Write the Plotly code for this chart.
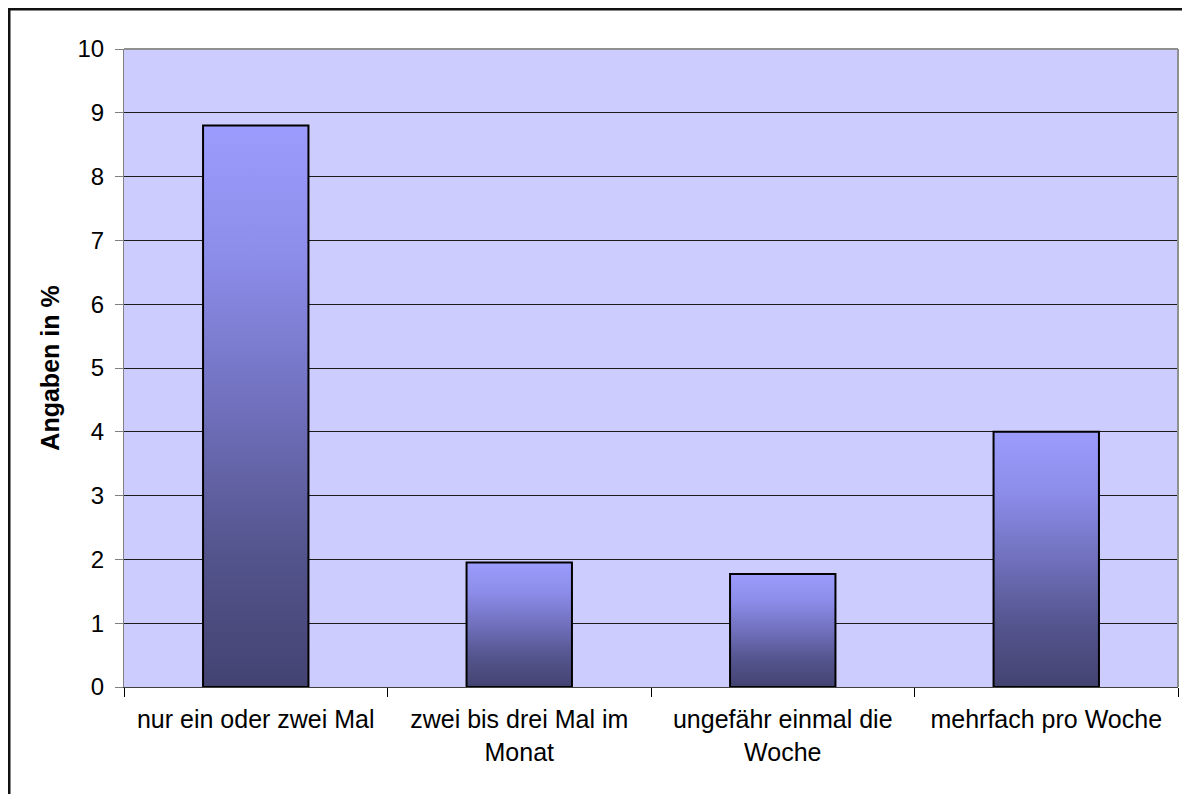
"""Excel-artiges Säulendiagramm mit Farbverlauf in den Säulen."""

import plotly.graph_objects as go

# --- Daten ---
kategorien = [
    "nur ein oder zwei Mal",
    "zwei bis drei Mal im<br>Monat",
    "ungefähr einmal die<br>Woche",
    "mehrfach pro Woche",
]
werte = [8.8, 1.95, 1.77, 4.0]
y_ticks = list(range(0, 11))

BALKEN_BREITE = 0.4
FONT = "Liberation Sans, Arial, sans-serif"
VERLAUF = [
    [0.0, "#434372"],
    [0.25, "#55558f"],
    [0.5, "#7070bd"],
    [0.75, "#8b8be8"],
    [1.0, "#9c9cfe"],
]

# Die Seite hat 8px Body-Rand, deshalb ist die Figur etwas kleiner
W, H = 1182, 786
L, R, T, B = 116, 12, 41, 107

fig = go.Figure()

# Säulen als gefüllte Flächen, damit ein vertikaler Verlauf möglich ist
for i, v in enumerate(werte):
    h = BALKEN_BREITE / 2
    fig.add_trace(
        go.Scatter(
            x=[i - h, i - h, i + h, i + h, i - h],
            y=[0, v, v, 0, 0],
            mode="lines",
            fill="toself",
            fillgradient={"type": "vertical", "colorscale": VERLAUF},
            line={"color": "#000000", "width": 2},
            hoverinfo="skip",
            showlegend=False,
        )
    )

grenzen = [i - 0.5 for i in range(len(kategorien) + 1)]

fig.update_xaxes(
    range=[-0.5, len(kategorien) - 0.5],
    tickmode="array",
    tickvals=list(range(len(kategorien))),
    ticktext=kategorien,
    ticks="",
    ticklabelstandoff=10,
    showgrid=False,
    zeroline=False,
    showline=True,
    linecolor="#404040",
    linewidth=1,
    tickfont={"family": FONT, "size": 25, "color": "#000000"},
    minor={
        "tickmode": "array",
        "tickvals": grenzen,
        "ticks": "outside",
        "ticklen": 9,
        "tickcolor": "#000000",
        "tickwidth": 1,
        "showgrid": False,
    },
)
fig.update_yaxes(
    range=[0, 10],
    tickmode="array",
    tickvals=y_ticks,
    ticks="outside",
    ticklen=8,
    tickcolor="#808080",
    ticklabelstandoff=6,
    showgrid=True,
    gridcolor="#1a1a1a",
    gridwidth=1,
    zeroline=False,
    showline=True,
    linecolor="#808080",
    linewidth=1,
    tickfont={"family": FONT, "size": 24, "color": "#000000"},
    title={
        "text": "<b>Angaben in %</b>",
        "font": {"family": FONT, "size": 25, "color": "#000000"},
        "standoff": 10,
    },
)

# graue Rahmenlinien oben und rechts am Plotbereich
fig.add_shape(
    type="line", xref="paper", yref="paper", x0=0, x1=1, y0=1, y1=1,
    line={"color": "#909090", "width": 2}, layer="above",
)
fig.add_shape(
    type="line", xref="paper", yref="paper", x0=1, x1=1, y0=0, y1=1,
    line={"color": "#909090", "width": 2}, layer="above",
)

# äußerer Diagrammrahmen (links und oben sichtbar)
pw, ph = W - L - R, H - T - B
fig.add_shape(
    type="rect", xref="paper", yref="paper",
    x0=(1 - L) / pw, x1=1.03,
    y0=-0.2, y1=1 + (T - 1) / ph,
    line={"color": "#111111", "width": 3},
    fillcolor="rgba(0,0,0,0)",
)

fig.update_layout(
    width=W,
    height=H,
    margin={"l": L, "r": R, "t": T, "b": B},
    plot_bgcolor="#ccccfe",
    paper_bgcolor="#ffffff",
    showlegend=False,
    font={"family": FONT, "size": 24, "color": "#000000"},
)

fig.write_html("out.html")
